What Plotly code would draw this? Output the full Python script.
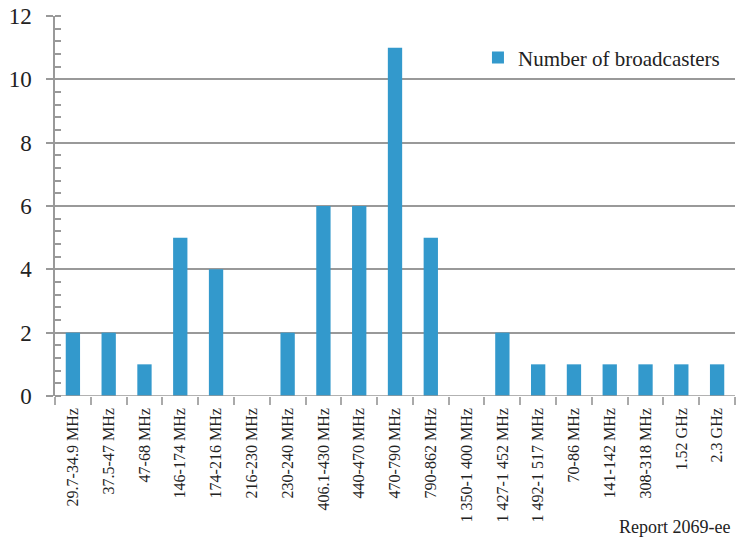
import plotly.graph_objects as go

categories = ["29.7-34.9 MHz", "37.5-47 MHz", "47-68 MHz", "146-174 MHz", "174-216 MHz",
              "216-230 MHz", "230-240 MHz", "406.1-430 MHz", "440-470 MHz", "470-790 MHz",
              "790-862 MHz", "1 350-1 400 MHz", "1 427-1 452 MHz", "1 492-1 517 MHz",
              "70-86 MHz", "141-142 MHz", "308-318 MHz", "1.52 GHz", "2.3 GHz"]
broadcasters = [2, 2, 1, 5, 4, 0, 2, 6, 6, 11, 5, 0, 2, 1, 1, 1, 1, 1, 1]
y_ticks = [0, 2, 4, 6, 8, 10, 12]

font = "Times New Roman, Liberation Serif, serif"
fig = go.Figure()
fig.add_trace(go.Bar(x=categories, y=broadcasters, name="Number of broadcasters",
                     marker=dict(color="#3399CC", line=dict(width=0)), showlegend=True))

fig.update_layout(
    width=736, height=546,
    margin=dict(l=55, r=1, t=16, b=150),
    paper_bgcolor="white", plot_bgcolor="white",
    bargap=0.6,
    font=dict(family=font, color="#222"),
    showlegend=True,
    legend=dict(x=0.622, xanchor="left", y=0.89, yanchor="middle", font=dict(size=21, family=font),
                bgcolor="rgba(0,0,0,0)", itemwidth=30),
    xaxis=dict(type="category", tickangle=-90, tickfont=dict(size=16, family=font),
               showline=False, ticks="outside", tickson="boundaries", ticklen=8,
               tickcolor="#aaa", tickwidth=1.5, showgrid=False, range=[-0.5, 18.5],
               ticklabelstandoff=8),
    yaxis=dict(range=[0, 12], tickvals=y_ticks, tickfont=dict(size=23, family=font),
               showline=True, linecolor="#999", linewidth=1.5,
               ticks="outside", ticklen=7, tickcolor="#999", tickwidth=1.5,
               showgrid=True, gridcolor="#999", gridwidth=1.5, zeroline=False,
               ticklabelstandoff=10,
               minor=dict(dtick=0.4, ticks="inside", ticklen=6, tickcolor="#999", tickwidth=1.5,
                          showgrid=False)),
    annotations=[dict(text="Report 2069-ee", xref="paper", yref="paper", x=0.996, y=0,
                      xanchor="right", yanchor="bottom", yshift=-143, showarrow=False,
                      font=dict(size=18, family=font, color="#222"))],
)
fig.add_shape(type="line", xref="paper", yref="y", x0=0, x1=1, y0=0, y1=0,
              line=dict(color="#999", width=1.5))
fig.write_html("out.html", config={"displayModeBar": False},
               post_script="document.body.style.margin='0';document.body.style.overflow='hidden';")
